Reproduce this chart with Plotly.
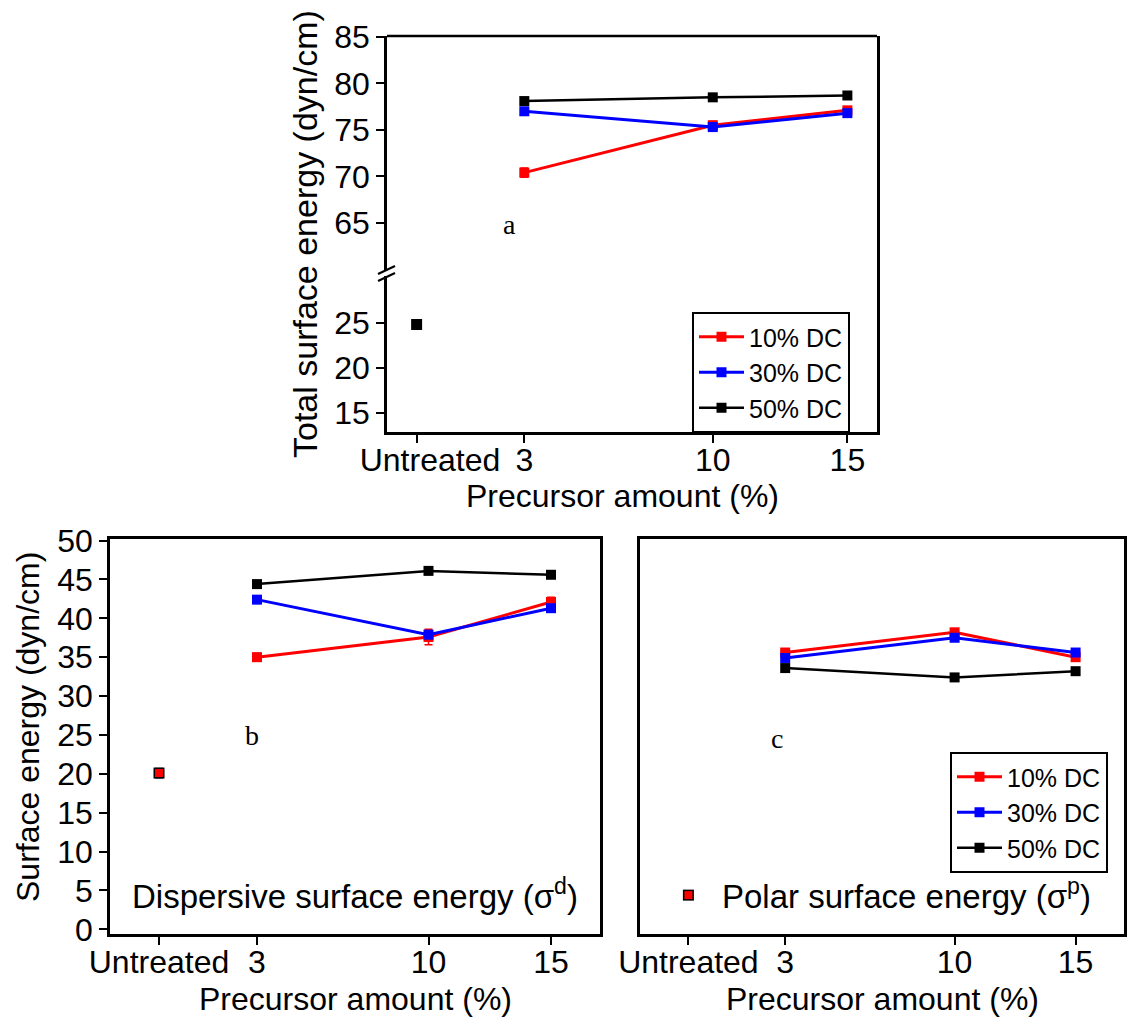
import plotly.graph_objects as go

# ---------------- data ----------------
x_pts = [3, 10, 15]
untreated_x = [-1]
tick_vals = [-1, 3, 10, 15]
tick_text = ["Untreated", "3", "10", "15"]
tick_text_top = ["   Untreated", "3", "10", "15"]
series_names = ["10% DC", "30% DC", "50% DC"]
series_colors = ["#ff0000", "#0000ff", "#000000"]

# (a) total surface energy
total_10 = [70.4, 75.5, 77.1]
total_30 = [77.0, 75.3, 76.8]
total_50 = [78.1, 78.5, 78.7]
total_err_10 = [0.5, 0.4, 0.4]
total_err_30 = [0.3, 0.4, 0.3]
total_err_50 = [0.3, 0.3, 0.3]
total_untreated = [24.8]
total_untreated_err = [0.5]

# (b) dispersive surface energy
disp_10 = [35.0, 37.6, 42.1]
disp_30 = [42.4, 37.9, 41.3]
disp_50 = [44.4, 46.1, 45.6]
disp_err_10 = [0.5, 1.0, 0.6]
disp_err_30 = [0.4, 0.5, 0.4]
disp_err_50 = [0.3, 0.3, 0.3]
disp_untreated = [20.1]
disp_untreated_err = [0.6]

# (c) polar surface energy
polar_10 = [35.6, 38.2, 35.0]
polar_30 = [34.9, 37.5, 35.6]
polar_50 = [33.6, 32.4, 33.2]
polar_err_10 = [0.5, 0.4, 0.5]
polar_err_30 = [0.4, 0.4, 0.4]
polar_err_50 = [0.3, 0.3, 0.3]
polar_untreated = [4.4]
polar_untreated_err = [0.4]

# ---------------- layout helpers ----------------
W, H = 1127, 1017
def px(x):
    return x / W
def py(y):
    return 1 - y / H

SANS = "Arial, Liberation Sans, sans-serif"
SERIF = "Times New Roman, Liberation Serif, serif"
tickfont = dict(family=SANS, size=32, color="black")

fig = go.Figure()

def add_series(vals_list, errs_list, xa, ya, legend, show):
    for name, col, vals, errs in zip(series_names, series_colors, vals_list, errs_list):
        fig.add_trace(go.Scatter(
            x=x_pts, y=vals, name=name, mode="lines+markers",
            xaxis=xa, yaxis=ya, legend=legend, showlegend=show,
            line=dict(color=col, width=3 if col != "#000000" else 2.5),
            marker=dict(symbol="square", size=10, color=col),
            error_y=dict(type="data", array=errs, color=col, thickness=1.5, width=4),
        ))

def add_untreated(val, err, xa, ya, two_tone):
    fig.add_trace(go.Scatter(
        x=untreated_x, y=val, mode="markers", xaxis=xa, yaxis=ya, showlegend=False,
        marker=dict(symbol="square", size=11, color="black"),
        error_y=dict(type="data", array=err, color="black", thickness=1.5, width=4),
    ))
    if two_tone:
        fig.add_trace(go.Scatter(
            x=untreated_x, y=val, mode="markers", xaxis=xa, yaxis=ya, showlegend=False,
            marker=dict(symbol="square", size=8, color="#ff0000"),
        ))

# (a)
add_series([total_10, total_30, total_50], [total_err_10, total_err_30, total_err_50],
           "x", "y2", "legend", True)
add_untreated(total_untreated, total_untreated_err, "x", "y", False)
# (b)
add_series([disp_10, disp_30, disp_50], [disp_err_10, disp_err_30, disp_err_50],
           "x3", "y3", "legend", False)
add_untreated(disp_untreated, disp_untreated_err, "x3", "y3", True)
# (c)
add_series([polar_10, polar_30, polar_50], [polar_err_10, polar_err_30, polar_err_50],
           "x4", "y4", "legend2", True)
add_untreated(polar_untreated, polar_untreated_err, "x4", "y4", True)

axis_common = dict(showline=True, linewidth=2.5, linecolor="black", showgrid=False,
                   zeroline=False, ticks="outside", ticklen=8, tickwidth=2,
                   tickcolor="black", tickfont=tickfont, automargin=False)

x_common = dict(axis_common, tickmode="array", tickvals=tick_vals, ticktext=tick_text,
                ticklabelstandoff=-10)

legend_common = dict(xanchor="left", yanchor="top", bordercolor="black", borderwidth=2,
                     bgcolor="white", font=dict(family=SANS, size=25, color="black"),
                     tracegroupgap=0, itemwidth=45)

fig.update_layout(
    width=W, height=H,
    margin=dict(l=0, r=0, t=0, b=0),
    paper_bgcolor="white", plot_bgcolor="white",
    xaxis=dict(x_common, domain=[px(387), px(877)], anchor="y", range=[-2.1, 16.1],
               ticktext=tick_text_top),
    yaxis=dict(axis_common, domain=[py(432), py(273)], anchor="x", range=[12.9, 30.5],
               tickvals=[15, 20, 25], mirror=True),
    yaxis2=dict(axis_common, domain=[py(273), py(36)], anchor="x", range=[59.6, 85.1],
                tickvals=[65, 70, 75, 80, 85], mirror=True),
    xaxis3=dict(x_common, domain=[px(110), px(600)], anchor="y3", range=[-3, 17], mirror=True),
    yaxis3=dict(axis_common, domain=[py(934), py(539)], anchor="x3", range=[-0.6, 50.2],
                tickvals=list(range(0, 51, 5)), mirror=True),
    xaxis4=dict(x_common, domain=[px(640), px(1124)], anchor="y4", range=[-3, 17], mirror=True),
    yaxis4=dict(axis_common, domain=[py(934), py(539)], anchor="x4", range=[-0.6, 50.2],
                ticks="", showticklabels=False, mirror=True),
    legend=dict(legend_common, x=px(692), y=py(312)),
    legend2=dict(legend_common, x=px(950), y=py(752)),
)

# top frame line of panel (a) and axis break marks
shapes = [
    dict(type="line", xref="paper", yref="paper", x0=px(387), x1=px(877), y0=py(36), y1=py(36),
         line=dict(color="black", width=2.5), layer="above"),
    dict(type="rect", xref="paper", yref="paper", x0=px(383), x1=px(391), y0=py(276), y1=py(270),
         line=dict(width=0), fillcolor="white", layer="above"),
    dict(type="line", xref="paper", yref="paper", x0=px(378), x1=px(395), y0=py(274), y1=py(266),
         line=dict(color="black", width=2), layer="above"),
    dict(type="line", xref="paper", yref="paper", x0=px(378), x1=px(395), y0=py(281), y1=py(273),
         line=dict(color="black", width=2), layer="above"),
]
fig.update_layout(shapes=shapes)

title_font = dict(family=SANS, size=32, color="black")
ann = [
    dict(text="Total surface energy (dyn/cm)", x=px(305), y=py(234), textangle=-90,
         font=dict(family=SANS, size=34, color="black")),
    dict(text="Precursor amount (%)", x=px(622), y=py(496), font=title_font),
    dict(text="Surface energy (dyn/cm)", x=px(28), y=py(727), textangle=-90, font=title_font),
    dict(text="Precursor amount (%)", x=px(355), y=py(999), font=title_font),
    dict(text="Precursor amount (%)", x=px(882), y=py(999), font=title_font),
]
for a in ann:
    fig.add_annotation(xref="paper", yref="paper", showarrow=False,
                       xanchor="center", yanchor="middle", **a)

serif_font = dict(family=SERIF, size=28, color="black")
fig.add_annotation(text="a", xref="x", yref="y2", x=2.46, y=64.8, showarrow=False, font=serif_font)
fig.add_annotation(text="b", xref="x3", yref="y3", x=2.8, y=24.9, showarrow=False, font=serif_font)
fig.add_annotation(text="c", xref="x4", yref="y4", x=2.65, y=24.6, showarrow=False, font=serif_font)

big_font = dict(family=SANS, size=33, color="black")
fig.add_annotation(text="Dispersive surface energy (σ<sup>d</sup>)", xref="x3", yref="y3",
                   x=7.0, y=4.6, showarrow=False, font=big_font)
fig.add_annotation(text="Polar surface energy (σ<sup>p</sup>)", xref="x4", yref="y4",
                   x=8.0, y=4.6, showarrow=False, font=big_font)

fig.write_html("out.html")
